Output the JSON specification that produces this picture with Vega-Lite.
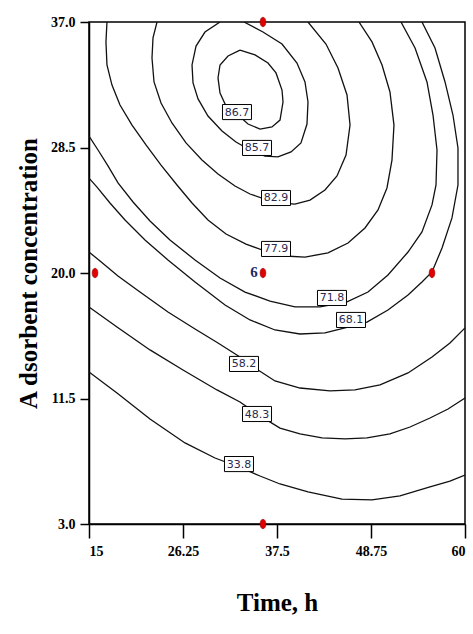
{
  "$schema": "https://vega.github.io/schema/vega-lite/v6.json",
  "width": 376,
  "height": 502,
  "autosize": {"type": "none"},
  "padding": {"left": 89, "top": 22, "right": 8, "bottom": 110},
  "background": "white",
  "config": {
    "view": {"stroke": "#000", "strokeWidth": 1.5},
    "axis": {
      "grid": false,
      "domainColor": "#000",
      "domainWidth": 1.5,
      "tickColor": "#000",
      "tickWidth": 1.5,
      "labelFont": "Liberation Serif",
      "labelFontWeight": "bold",
      "labelFontSize": 14,
      "labelColor": "#000",
      "titleFont": "Liberation Serif",
      "titleFontWeight": "bold",
      "titleFontSize": 25,
      "titleColor": "#000"
    }
  },
  "datasets": {
    "contours": [
      {"c":"86.7","i":0,"x":33.07,"y":35.10},{"c":"86.7","i":1,"x":34.87,"y":34.77},{"c":"86.7","i":2,"x":36.42,"y":34.22},{"c":"86.7","i":3,"x":37.38,"y":33.55},{"c":"86.7","i":4,"x":38.10,"y":32.39},{"c":"86.7","i":5,"x":38.22,"y":31.58},{"c":"86.7","i":6,"x":37.86,"y":30.36},{"c":"86.7","i":7,"x":36.90,"y":29.89},{"c":"86.7","i":8,"x":35.47,"y":29.75},{"c":"86.7","i":9,"x":34.03,"y":30.09},{"c":"86.7","i":10,"x":32.71,"y":30.77},{"c":"86.7","i":11,"x":31.40,"y":31.31},{"c":"86.7","i":12,"x":30.68,"y":32.19},{"c":"86.7","i":13,"x":30.44,"y":33.21},{"c":"86.7","i":14,"x":30.68,"y":34.09},{"c":"86.7","i":15,"x":31.64,"y":34.70},{"c":"86.7","i":16,"x":33.07,"y":35.10},

      {"c":"85.7","i":0,"x":30.68,"y":37},{"c":"85.7","i":1,"x":28.88,"y":36.32},{"c":"85.7","i":2,"x":27.81,"y":35.37},{"c":"85.7","i":3,"x":27.33,"y":34.09},{"c":"85.7","i":4,"x":27.45,"y":32.87},{"c":"85.7","i":5,"x":28.05,"y":31.79},{"c":"85.7","i":6,"x":29.24,"y":30.63},{"c":"85.7","i":7,"x":30.92,"y":29.62},{"c":"85.7","i":8,"x":32.59,"y":28.87},{"c":"85.7","i":9,"x":34.27,"y":28.33},{"c":"85.7","i":10,"x":36.06,"y":27.92},{"c":"85.7","i":11,"x":37.62,"y":27.86},{"c":"85.7","i":12,"x":39.18,"y":28.20},{"c":"85.7","i":13,"x":40.37,"y":28.81},{"c":"85.7","i":14,"x":41.09,"y":30.09},{"c":"85.7","i":15,"x":41.21,"y":31.58},{"c":"85.7","i":16,"x":40.85,"y":32.94},{"c":"85.7","i":17,"x":39.89,"y":34.22},{"c":"85.7","i":18,"x":38.10,"y":35.51},{"c":"85.7","i":19,"x":35.82,"y":36.32},{"c":"85.7","i":20,"x":33.55,"y":37},

      {"c":"82.9","i":0,"x":23.14,"y":37},{"c":"82.9","i":1,"x":22.66,"y":35.92},{"c":"82.9","i":2,"x":22.54,"y":34.56},{"c":"82.9","i":3,"x":22.78,"y":32.94},{"c":"82.9","i":4,"x":23.62,"y":31.51},{"c":"82.9","i":5,"x":24.93,"y":30.16},{"c":"82.9","i":6,"x":26.61,"y":28.81},{"c":"82.9","i":7,"x":28.52,"y":27.65},{"c":"82.9","i":8,"x":30.44,"y":26.71},{"c":"82.9","i":9,"x":32.47,"y":25.89},{"c":"82.9","i":10,"x":34.27,"y":25.35},{"c":"82.9","i":11,"x":36.06,"y":25.01},{"c":"82.9","i":12,"x":37.86,"y":24.74},{"c":"82.9","i":13,"x":39.65,"y":24.67},{"c":"82.9","i":14,"x":41.45,"y":24.94},{"c":"82.9","i":15,"x":43.24,"y":25.62},{"c":"82.9","i":16,"x":44.68,"y":26.57},{"c":"82.9","i":17,"x":45.76,"y":27.99},{"c":"82.9","i":18,"x":46.24,"y":30.02},{"c":"82.9","i":19,"x":45.88,"y":32.06},{"c":"82.9","i":20,"x":44.80,"y":33.88},{"c":"82.9","i":21,"x":43.36,"y":35.51},{"c":"82.9","i":22,"x":41.21,"y":37},

      {"c":"77.9","i":0,"x":17.15,"y":37},{"c":"77.9","i":1,"x":17.03,"y":35.65},{"c":"77.9","i":2,"x":17.15,"y":34.09},{"c":"77.9","i":3,"x":17.75,"y":32.73},{"c":"77.9","i":4,"x":18.71,"y":31.38},{"c":"77.9","i":5,"x":20.15,"y":30.02},{"c":"77.9","i":6,"x":21.82,"y":28.67},{"c":"77.9","i":7,"x":23.62,"y":27.31},{"c":"77.9","i":8,"x":25.53,"y":25.96},{"c":"77.9","i":9,"x":27.33,"y":24.74},{"c":"77.9","i":10,"x":29.24,"y":23.59},{"c":"77.9","i":11,"x":31.40,"y":22.64},{"c":"77.9","i":12,"x":33.79,"y":21.96},{"c":"77.9","i":13,"x":36.06,"y":21.49},{"c":"77.9","i":14,"x":38.46,"y":21.15},{"c":"77.9","i":15,"x":40.85,"y":21.08},{"c":"77.9","i":16,"x":43.60,"y":21.36},{"c":"77.9","i":17,"x":46.00,"y":22.03},{"c":"77.9","i":18,"x":48.03,"y":23.05},{"c":"77.9","i":19,"x":49.59,"y":24.27},{"c":"77.9","i":20,"x":50.66,"y":25.76},{"c":"77.9","i":21,"x":51.26,"y":27.65},{"c":"77.9","i":22,"x":51.50,"y":30.02},{"c":"77.9","i":23,"x":51.02,"y":32.26},{"c":"77.9","i":24,"x":50.07,"y":34.09},{"c":"77.9","i":25,"x":48.87,"y":35.65},{"c":"77.9","i":26,"x":47.31,"y":37},

      {"c":"71.8","i":0,"x":15,"y":29.28},{"c":"71.8","i":1,"x":16.08,"y":28.33},{"c":"71.8","i":2,"x":17.27,"y":27.25},{"c":"71.8","i":3,"x":18.47,"y":26.10},{"c":"71.8","i":4,"x":20.27,"y":24.81},{"c":"71.8","i":5,"x":22.30,"y":23.52},{"c":"71.8","i":6,"x":24.69,"y":22.24},{"c":"71.8","i":7,"x":27.69,"y":20.88},{"c":"71.8","i":8,"x":30.68,"y":19.66},{"c":"71.8","i":9,"x":33.67,"y":18.71},{"c":"71.8","i":10,"x":36.66,"y":18.10},{"c":"71.8","i":11,"x":39.65,"y":17.70},{"c":"71.8","i":12,"x":42.65,"y":17.70},{"c":"71.8","i":13,"x":45.88,"y":18.04},{"c":"71.8","i":14,"x":48.39,"y":18.71},{"c":"71.8","i":15,"x":50.78,"y":19.87},{"c":"71.8","i":16,"x":53.18,"y":21.42},{"c":"71.8","i":17,"x":54.85,"y":22.78},{"c":"71.8","i":18,"x":56.05,"y":24.61},{"c":"71.8","i":19,"x":56.53,"y":25.96},{"c":"71.8","i":20,"x":56.65,"y":28.33},{"c":"71.8","i":21,"x":56.17,"y":30.70},{"c":"71.8","i":22,"x":55.45,"y":32.94},{"c":"71.8","i":23,"x":54.02,"y":35.24},{"c":"71.8","i":24,"x":52.34,"y":37},

      {"c":"68.1","i":0,"x":15,"y":26.43},{"c":"68.1","i":1,"x":15.96,"y":25.82},{"c":"68.1","i":2,"x":17.51,"y":24.74},{"c":"68.1","i":3,"x":19.31,"y":23.59},{"c":"68.1","i":4,"x":21.70,"y":22.24},{"c":"68.1","i":5,"x":24.45,"y":20.88},{"c":"68.1","i":6,"x":27.69,"y":19.39},{"c":"68.1","i":7,"x":31.28,"y":17.83},{"c":"68.1","i":8,"x":34.27,"y":16.82},{"c":"68.1","i":9,"x":37.26,"y":16.14},{"c":"68.1","i":10,"x":40.25,"y":15.87},{"c":"68.1","i":11,"x":43.24,"y":15.94},{"c":"68.1","i":12,"x":45.64,"y":16.28},{"c":"68.1","i":13,"x":48.27,"y":16.68},{"c":"68.1","i":14,"x":50.78,"y":17.49},{"c":"68.1","i":15,"x":53.18,"y":18.51},{"c":"68.1","i":16,"x":54.85,"y":19.39},{"c":"68.1","i":17,"x":56.05,"y":20.07},{"c":"68.1","i":18,"x":57.25,"y":21.69},{"c":"68.1","i":19,"x":58.44,"y":23.73},{"c":"68.1","i":20,"x":59.16,"y":25.96},{"c":"68.1","i":21,"x":59.16,"y":28.47},{"c":"68.1","i":22,"x":58.56,"y":30.70},{"c":"68.1","i":23,"x":57.61,"y":32.94},{"c":"68.1","i":24,"x":56.41,"y":35.24},{"c":"68.1","i":25,"x":54.85,"y":37},

      {"c":"58.2","i":0,"x":15,"y":21.42},{"c":"58.2","i":1,"x":16.32,"y":20.81},{"c":"58.2","i":2,"x":18.47,"y":19.80},{"c":"58.2","i":3,"x":21.10,"y":18.71},{"c":"58.2","i":4,"x":24.45,"y":17.36},{"c":"58.2","i":5,"x":27.69,"y":16.21},{"c":"58.2","i":6,"x":30.44,"y":15.26},{"c":"58.2","i":7,"x":33.07,"y":14.31},{"c":"58.2","i":8,"x":35.23,"y":13.43},{"c":"58.2","i":9,"x":37.26,"y":12.69},{"c":"58.2","i":10,"x":40.25,"y":12.21},{"c":"58.2","i":11,"x":43.84,"y":12.01},{"c":"58.2","i":12,"x":46.83,"y":12.08},{"c":"58.2","i":13,"x":49.83,"y":12.42},{"c":"58.2","i":14,"x":53.18,"y":13.23},{"c":"58.2","i":15,"x":56.05,"y":14.31},{"c":"58.2","i":16,"x":58.20,"y":15.26},{"c":"58.2","i":17,"x":60,"y":16.28},

      {"c":"48.3","i":0,"x":15,"y":17.70},{"c":"48.3","i":1,"x":18.35,"y":16.34},{"c":"48.3","i":2,"x":22.30,"y":14.79},{"c":"48.3","i":3,"x":26.25,"y":13.43},{"c":"48.3","i":4,"x":30.32,"y":12.08},{"c":"48.3","i":5,"x":33.07,"y":11.26},{"c":"48.3","i":6,"x":35.47,"y":10.32},{"c":"48.3","i":7,"x":37.86,"y":9.50},{"c":"48.3","i":8,"x":40.25,"y":9.10},{"c":"48.3","i":9,"x":42.89,"y":8.83},{"c":"48.3","i":10,"x":45.64,"y":8.76},{"c":"48.3","i":11,"x":48.27,"y":8.83},{"c":"48.3","i":12,"x":51.02,"y":9.10},{"c":"48.3","i":13,"x":53.42,"y":9.57},{"c":"48.3","i":14,"x":55.81,"y":10.18},{"c":"48.3","i":15,"x":57.97,"y":10.79},{"c":"48.3","i":16,"x":60,"y":11.53},

      {"c":"33.8","i":0,"x":15,"y":13.30},{"c":"33.8","i":1,"x":18.35,"y":11.87},{"c":"33.8","i":2,"x":22.30,"y":10.11},{"c":"33.8","i":3,"x":26.49,"y":8.49},{"c":"33.8","i":4,"x":30.08,"y":7.47},{"c":"33.8","i":5,"x":32.95,"y":6.86},{"c":"33.8","i":6,"x":35.47,"y":6.25},{"c":"33.8","i":7,"x":37.86,"y":5.71},{"c":"33.8","i":8,"x":41.21,"y":5.17},{"c":"33.8","i":9,"x":45.28,"y":4.69},{"c":"33.8","i":10,"x":48.87,"y":4.63},{"c":"33.8","i":11,"x":52.22,"y":4.90},{"c":"33.8","i":12,"x":55.81,"y":5.51},{"c":"33.8","i":13,"x":58.20,"y":5.91},{"c":"33.8","i":14,"x":60,"y":6.32}
    ],
    "labels": [
      {"t":"86.7","x":32.71,"y":30.90},
      {"t":"85.7","x":35.11,"y":28.47},
      {"t":"82.9","x":37.38,"y":25.08},
      {"t":"77.9","x":37.38,"y":21.63},
      {"t":"71.8","x":44.08,"y":18.31},
      {"t":"68.1","x":46.36,"y":16.82},
      {"t":"58.2","x":33.55,"y":13.84},
      {"t":"48.3","x":35.11,"y":10.45},
      {"t":"33.8","x":32.95,"y":7.06}
    ],
    "points": [
      {"x":35.82,"y":37},
      {"x":35.82,"y":20},
      {"x":35.82,"y":3},
      {"x":15.72,"y":20},
      {"x":56.05,"y":20}
    ],
    "reps": [
      {"t":"6","x":35.82,"y":20}
    ]
  },
  "encoding": {
    "x": {
      "field": "x", "type": "quantitative",
      "scale": {"domain": [15, 60], "nice": false, "zero": false},
      "axis": {
        "values": [15, 26.25, 37.5, 48.75, 60],
        "labelExpr": "format(datum.value, '~g')",
        "title": "Time, h",
        "tickSize": 14,
        "labelPadding": 6,
        "titlePadding": 32
      }
    },
    "y": {
      "field": "y", "type": "quantitative",
      "scale": {"domain": [3, 37], "nice": false, "zero": false},
      "axis": {
        "values": [3, 11.5, 20, 28.5, 37],
        "labelExpr": "format(datum.value, '.1f')",
        "title": "A dsorbent concentration",
        "tickSize": 9,
        "labelPadding": 5,
        "titlePadding": 9
      }
    }
  },
  "layer": [
    {
      "data": {"name": "contours"},
      "mark": {"type": "line", "color": "#111", "strokeWidth": 1.3, "clip": true},
      "encoding": {
        "detail": {"field": "c", "type": "nominal"},
        "order": {"field": "i", "type": "quantitative"}
      }
    },
    {
      "data": {"name": "labels"},
      "mark": {"type": "point", "shape": "M-1,-0.52H1V0.52H-1Z", "size": 841, "filled": true, "fill": "white", "stroke": "#000", "strokeWidth": 1, "opacity": 1}
    },
    {
      "data": {"name": "labels"},
      "mark": {"type": "text", "font": "DejaVu Sans", "fontSize": 11, "color": "#2a2a50", "align": "center", "baseline": "middle", "dy": 0.5},
      "encoding": {"text": {"field": "t", "type": "nominal"}}
    },
    {
      "data": {"name": "points"},
      "mark": {"type": "point", "shape": "M0,-1C0.8,-1 0.8,1 0,1C-0.8,1 -0.8,-1 0,-1Z", "size": 90, "filled": true, "fill": "#e00000", "stroke": "#900000", "strokeWidth": 0.6, "opacity": 1}
    },
    {
      "data": {"name": "reps"},
      "mark": {"type": "text", "font": "Liberation Serif", "fontWeight": "bold", "fontSize": 15, "color": "#1b2a6b", "align": "center", "baseline": "middle", "dx": -9, "dy": -1},
      "encoding": {"text": {"field": "t", "type": "nominal"}}
    }
  ]
}
